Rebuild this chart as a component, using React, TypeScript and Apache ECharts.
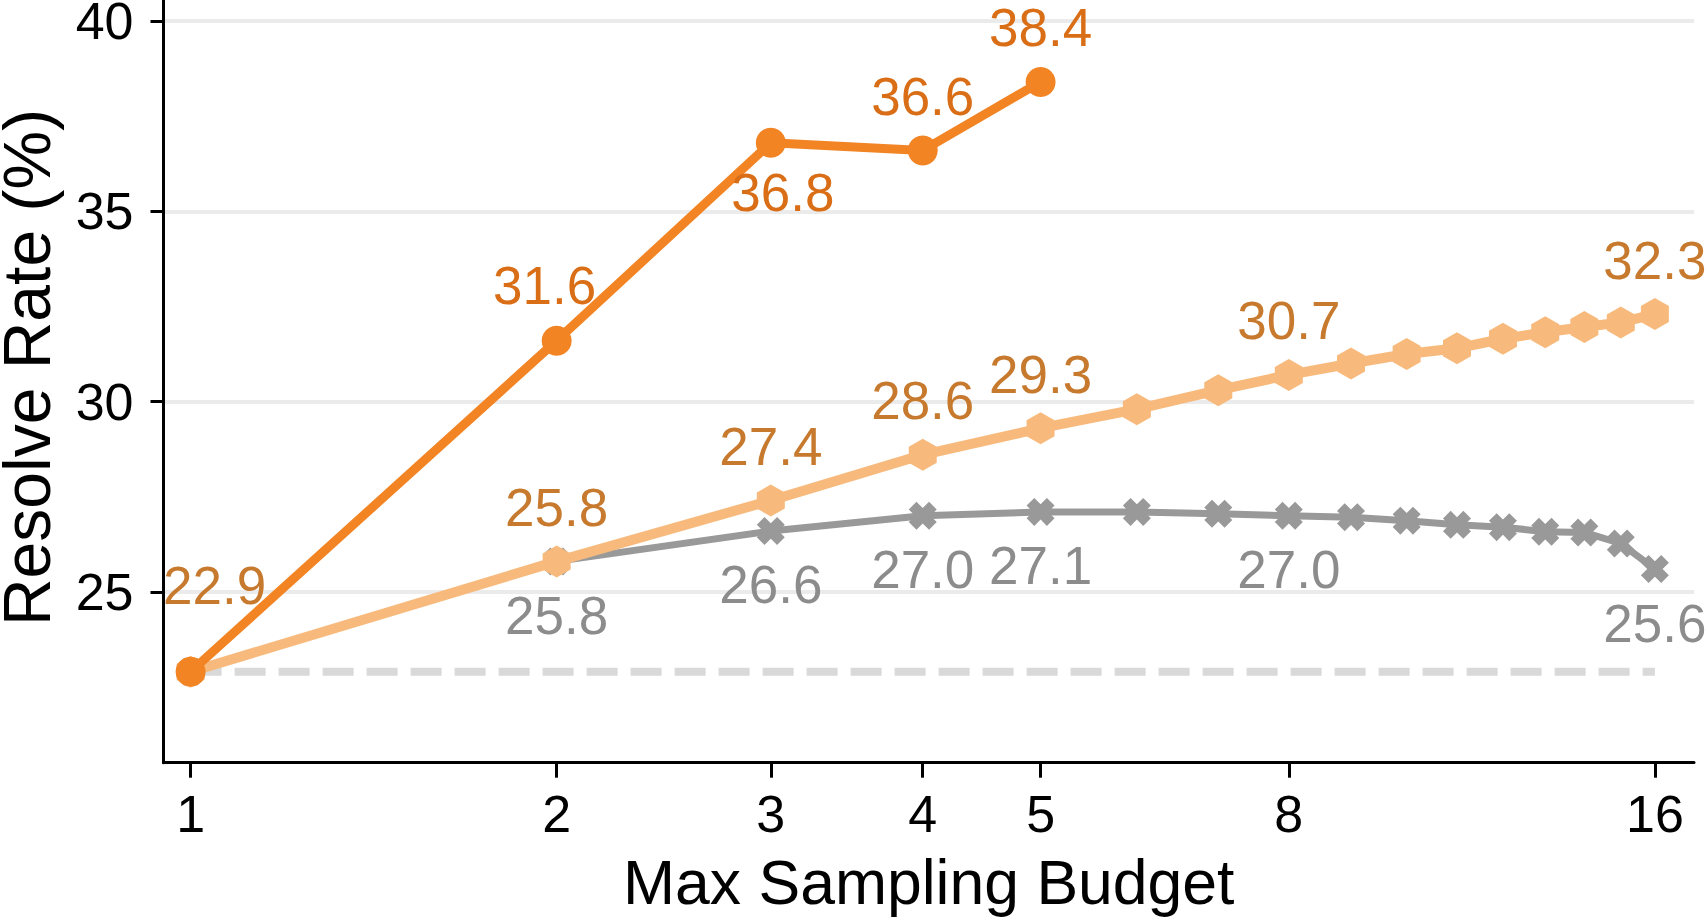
import { useEffect, useRef } from "react";
import * as echarts from "echarts";

// Sampling budgets on the x axis (log2 scale)
const budgets = [1, 2, 3, 4, 5, 6, 7, 8, 9, 10, 11, 12, 13, 14, 15, 16];
const shortBudgets = [1, 2, 3, 4, 5];

// Resolve rates (%)
const orangeRates = [22.9, 31.6, 36.8, 36.6, 38.4];
const lightRates = [22.9, 25.8, 27.4, 28.6, 29.3, 29.8, 30.3, 30.7, 31.0, 31.25, 31.4, 31.65, 31.82, 31.96, 32.08, 32.3];
const grayRates = [22.9, 25.8, 26.6, 27.0, 27.1, 27.1, 27.05, 27.0, 26.96, 26.87, 26.76, 26.7, 26.58, 26.56, 26.27, 25.6];
const baselineRate = 22.9;

// Which budgets carry a value label
const orangeLabelled = [2, 3, 4, 5];
const lightLabelled = [1, 2, 3, 4, 5, 8, 16];
const grayLabelled = [2, 3, 4, 5, 8, 16];

// Axis ticks
const xTicks = [1, 2, 3, 4, 5, 8, 16];
const yTicks = [25, 30, 35, 40];

const FONT = "'Liberation Sans', Arial, Helvetica, sans-serif";

const HEXAGON = "path://M0,-1L0.866,-0.5L0.866,0.5L0,1L-0.866,0.5L-0.866,-0.5Z";
const CROSS =
  "path://M-1,-0.45L-0.45,-1L0,-0.55L0.45,-1L1,-0.45L0.55,0L1,0.45L0.45,1L0,0.55L-0.45,1L-1,0.45L-0.55,0Z";

type Offsets = Record<number, [number, number]>;

function buildData(
  xs: number[],
  ys: number[],
  shown: number[],
  color: string,
  dy: number,
  overrides: Offsets = {}
) {
  return xs.map((x, i) => {
    const item: any = { value: [x, ys[i]] };
    if (shown.includes(x)) {
      item.label = {
        show: true,
        position: "inside",
        offset: overrides[x] || [0, dy],
        color,
        fontSize: 53,
        fontFamily: FONT,
        formatter: (p: any) => Number(p.value[1]).toFixed(1),
      };
    }
    return item;
  });
}

export default function App() {
  const ref = useRef<HTMLDivElement>(null);

  useEffect(() => {
    if (!ref.current) return;
    const chart = echarts.init(ref.current, undefined, { renderer: "svg" });

    const axisLineStyle = { color: "#000", width: 3 };

    chart.setOption({
      animation: false,
      backgroundColor: "#fff",
      textStyle: { fontFamily: FONT },
      grid: {
        left: 163.5,
        right: 12,
        top: -27.7,
        bottom: 156.3,
        containLabel: false,
        outerBoundsMode: "none",
      },
      xAxis: {
        type: "log",
        logBase: 2,
        min: 0.95,
        max: 17.23,
        axisLine: { show: true, onZero: false, lineStyle: axisLineStyle },
        axisTick: {
          show: true,
          length: 15,
          lineStyle: axisLineStyle,
          customValues: xTicks,
        },
        axisLabel: {
          customValues: xTicks,
          fontSize: 52,
          color: "#000",
          fontFamily: FONT,
          margin: 25,
          formatter: (v: number) => String(Math.round(v)),
        },
        splitLine: { show: false },
        minorTick: { show: false },
        name: "Max Sampling Budget",
        nameLocation: "middle",
        nameGap: 88,
        nameTextStyle: { fontSize: 62.5, color: "#000", fontFamily: FONT, lineHeight: 62 },
      },
      yAxis: {
        type: "value",
        min: 20.51,
        max: 41.28,
        axisLine: { show: true, onZero: false, lineStyle: axisLineStyle },
        axisTick: {
          show: true,
          length: 13,
          lineStyle: axisLineStyle,
          customValues: yTicks,
        },
        axisLabel: {
          customValues: yTicks,
          fontSize: 52,
          color: "#000",
          fontFamily: FONT,
          margin: 30,
        },
        splitLine: { show: true, lineStyle: { color: "#ebebeb", width: 4 } },
        name: "Resolve Rate (%)",
        nameLocation: "middle",
        nameGap: 104,
        nameTextStyle: { fontSize: 66, color: "#000", fontFamily: FONT, lineHeight: 66 },
      },
      series: [
        {
          name: "baseline",
          type: "line",
          data: [
            [budgets[0], baselineRate],
            [budgets[budgets.length - 1], baselineRate],
          ],
          symbol: "none",
          silent: true,
          lineStyle: { color: "#d9d9d9", width: 8, type: [31, 13], cap: "butt" },
          z: 1,
        },
        {
          name: "gray",
          type: "line",
          data: buildData(budgets, grayRates, grayLabelled, "#8c8c8c", 54),
          symbol: CROSS,
          symbolSize: 28,
          itemStyle: { color: "#999999" },
          lineStyle: { color: "#999999", width: 7 },
          z: 2,
        },
        {
          name: "light orange",
          type: "line",
          data: buildData(budgets, lightRates, lightLabelled, "#c77a2e", -54, {
            1: [24, -86],
          }),
          symbol: HEXAGON,
          symbolSize: [28, 32],
          itemStyle: { color: "#f8ba7c" },
          lineStyle: { color: "#f8ba7c", width: 10 },
          z: 3,
        },
        {
          name: "orange",
          type: "line",
          data: buildData(shortBudgets, orangeRates, orangeLabelled, "#d96e17", -54, {
            2: [-12, -55],
            3: [12, 50],
          }),
          symbol: "circle",
          symbolSize: 30,
          itemStyle: { color: "#f28424" },
          lineStyle: { color: "#f28424", width: 9 },
          z: 4,
        },
      ],
    });

    return () => chart.dispose();
  }, []);

  return (
    <div
      ref={ref}
      style={{ position: "fixed", left: 0, top: 0, width: 1706, height: 919, background: "#fff" }}
    />
  );
}
